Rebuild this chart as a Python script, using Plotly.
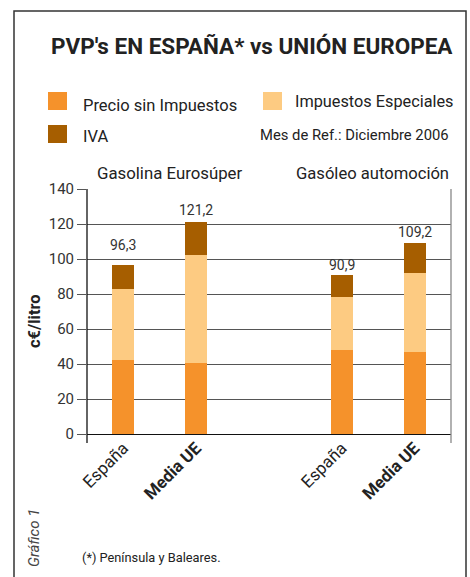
import plotly.graph_objects as go

# ---- data ----
groups = ["Gasolina Eurosúper", "Gasóleo automoción"]
bar_labels = ["España", "<b>Media UE</b>", "España", "<b>Media UE</b>"]
bar_pos = [0, 1, 3, 4]
precio = [42.5, 40.8, 48.2, 47.0]
impuestos = [40.5, 61.7, 30.2, 45.2]
iva = [13.3, 18.7, 12.5, 17.0]
totals = [96.3, 121.2, 90.9, 109.2]
total_text = ["96,3", "121,2", "90,9", "109,2"]
y_ticks = [0, 20, 40, 60, 80, 100, 120, 140]

C_PRECIO = "#F5922B"
C_IMP = "#FDCB82"
C_IVA = "#A65E00"
FONT = "Roboto, Liberation Sans, sans-serif"
TXT = "#222222"

W, H = 470, 577
L, R, T, B = 87, 451, 189, 434

def px(x):
    return (x - L) / (R - L)

def py(y):
    return (B - y) / (B - T)

fig = go.Figure()
for name, vals, col in [("Precio sin Impuestos", precio, C_PRECIO),
                        ("Impuestos Especiales", impuestos, C_IMP),
                        ("IVA", iva, C_IVA)]:
    fig.add_trace(go.Bar(x=bar_pos, y=vals, name=name, marker=dict(color=col, line=dict(width=0)),
                         width=0.3, showlegend=False, hoverinfo="y+name"))

shapes = []
annotations = []

# value labels above the stacks
label_gaps = [12, 4, 2, 3]
for xv, yv, tx, g in zip(bar_pos, totals, total_text, label_gaps):
    annotations.append(dict(x=xv, y=yv, xref="x", yref="y", text=tx, showarrow=False,
                            yanchor="bottom", xanchor="center", yshift=g - 2,
                            font=dict(family=FONT, size=14, color="#333")))

# frame
shapes.append(dict(type="rect", xref="paper", yref="paper", x0=px(14), x1=px(466),
                   y0=py(600), y1=py(11), line=dict(color="#333", width=1.5)))
# axis extensions
shapes.append(dict(type="line", xref="paper", yref="paper", x0=px(87), x1=px(87),
                   y0=py(443), y1=py(189), line=dict(color="#111", width=1.3)))
shapes.append(dict(type="line", xref="paper", yref="paper", x0=px(451), x1=px(451),
                   y0=py(443), y1=py(189), line=dict(color="#888", width=1.3)))

# legend squares
for (x0, y0, col) in [(48, 92, C_PRECIO), (48, 125, C_IVA), (263, 92, C_IMP)]:
    shapes.append(dict(type="rect", xref="paper", yref="paper", x0=px(x0), x1=px(x0 + 19),
                       y0=py(y0 + 18), y1=py(y0), fillcolor=col, line=dict(width=0)))

def ann(text, x, y, size, xanchor="left", color=TXT, textangle=0, yanchor="middle"):
    annotations.append(dict(text=text, x=px(x), y=py(y), xref="paper", yref="paper",
                            xanchor=xanchor, yanchor=yanchor, showarrow=False,
                            textangle=textangle,
                            font=dict(family=FONT, size=size, color=color)))

ann("<b>PVP's EN ESPAÑA* vs UNIÓN EUROPEA</b>", 252, 46, 22.5, xanchor="center")
ann("Precio sin Impuestos", 81, 105, 16.5)
ann("IVA", 81, 137, 16.5)
ann("Impuestos Especiales", 293, 102, 16.3)
ann("Mes de Ref.: Diciembre 2006", 451, 135, 14.8, xanchor="right")
ann(groups[0], 95, 173, 16.8)
ann(groups[1], 451, 173, 16.6, xanchor="right")
ann("<b>c€/litro</b>", 34, 321, 16.5, xanchor="center", textangle=-90)
ann("<i>Gráfico 1</i>", 34, 538, 15, xanchor="center", textangle=-90, color="#444")
ann("(*) Península y Baleares.", 80, 557, 12.8)

fig.update_layout(
    width=W, height=H,
    margin=dict(l=L, r=W - R, t=T, b=H - B, pad=0),
    barmode="stack",
    plot_bgcolor="white", paper_bgcolor="white",
    shapes=shapes, annotations=annotations,
    showlegend=False,
    bargap=0,
)
fig.update_xaxes(range=[-0.5, 4.5], tickvals=bar_pos, ticktext=bar_labels, tickangle=-45,
                 showgrid=False, zeroline=False, ticks="", showline=False,
                 tickfont=dict(family=FONT, size=17, color=TXT))
fig.update_yaxes(range=[0, 140], tickvals=y_ticks, showgrid=True, gridcolor="#555", gridwidth=1,
                 zeroline=True, zerolinecolor="#111", zerolinewidth=1.3,
                 ticks="outside", ticklen=9, tickcolor="#555", showline=False,
                 tickfont=dict(family=FONT, size=15, color="#333"))

fig.write_html("out.html", config={"displayModeBar": False},
               post_script="document.body.style.margin='0';")
